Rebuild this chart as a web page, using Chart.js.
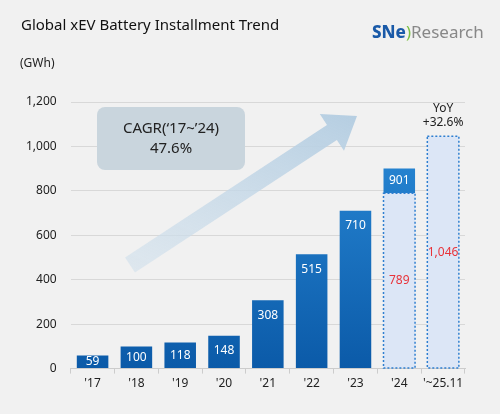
<!DOCTYPE html>
<html><head><meta charset="utf-8">
<script src="https://cdn.jsdelivr.net/npm/chart.js@4"></script>
<style>
body{margin:0;background:#f1f1f1;font-family:'Noto Sans',Arial,sans-serif}
#wrap{position:relative;width:500px;height:414px}
#title{position:absolute;left:21px;top:14px;font-size:15px;color:#111}
#unit{position:absolute;left:20px;top:54px;font-size:12px;color:#222}
#logo{position:absolute;left:372px;top:20px;font-size:17px;color:#888}
#logo b{color:#1a5aa8;font-weight:800}
</style></head><body>
<div id="wrap">
<canvas id="c" width="500" height="414"></canvas>
<div id="title">Global xEV Battery Installment Trend</div>
<div id="unit">(GWh)</div>
<div id="logo"><b>SNe</b><span style="color:#7bc043">)</span>Research</div>
</div>
<script>
var categories = ["'17", "'18", "'19", "'20", "'21", "'22", "'23", "'24", "'~25.11"];
var actual = [59, 100, 118, 148, 308, 515, 710, null, null];
var ytdPart = [null, null, null, null, null, null, null, 789, 1046];
var top24 = [null, null, null, null, null, null, null, 112, null];
var total24 = 901;
var yTicks = [0, 200, 400, 600, 800, 1000, 1200];

function blueGrad(ctx) {
    var a = ctx.chart.chartArea;
    if (!a) return '#1f78c8';
    var g = ctx.chart.ctx.createLinearGradient(0, a.bottom, 0, a.top);
    g.addColorStop(0, '#0b5aa8');
    g.addColorStop(1, '#2d8fdc');
    return g;
}

var deco = {
    id: 'deco',
    beforeDatasetsDraw: function (chart) {
        var c = chart.ctx;
        // arrow
        c.save();
        var x0 = 130, y0 = 265, x1 = 357, y1 = 116;
        var ang = Math.atan2(y1 - y0, x1 - x0);
        var g = c.createLinearGradient(x0, y0, x1, y1);
        g.addColorStop(0, 'rgba(215,228,238,0.6)');
        g.addColorStop(1, 'rgba(180,205,225,1)');
        c.translate(x0, y0); c.rotate(ang);
        var L = Math.hypot(x1 - x0, y1 - y0);
        c.fillStyle = g;
        c.beginPath();
        c.moveTo(0, -9); c.lineTo(L - 30, -9); c.lineTo(L - 30, -22); c.lineTo(L, 0);
        c.lineTo(L - 30, 22); c.lineTo(L - 30, 9); c.lineTo(0, 9); c.closePath();
        c.fill();
        c.restore();
        // CAGR box
        c.save();
        c.fillStyle = '#c9d5dd';
        c.beginPath(); c.roundRect(97, 107, 148, 63, 8); c.fill();
        c.fillStyle = '#222'; c.textAlign = 'center';
        c.font = '15px "Noto Sans"';
        c.fillText('CAGR(\u201817~\u201924)', 171, 133);
        c.fillText('47.6%', 171, 153);
        c.restore();
    },
    afterDatasetsDraw: function (chart) {
        var c = chart.ctx;
        c.save();
        c.textAlign = 'center'; c.textBaseline = 'middle';
        c.font = '12px "Noto Sans"';
        chart.getDatasetMeta(0).data.forEach(function (b, i) {
            if (actual[i] == null) return;
            c.fillStyle = '#fff';
            c.fillText(actual[i], b.x, Math.min(b.y + 15, (b.y + b.base) / 2));
        });
        chart.getDatasetMeta(1).data.forEach(function (b, i) {
            if (ytdPart[i] == null) return;
            var w = b.width;
            c.setLineDash([2, 2]); c.lineWidth = 1.5; c.strokeStyle = '#2f7fd0';
            c.strokeRect(b.x - w / 2, b.y, w, b.base - b.y);
            c.fillStyle = '#e8333a';
            c.fillText(ytdPart[i].toLocaleString('en-US'), b.x, (b.y + b.base) / 2);
        });
        chart.getDatasetMeta(2).data.forEach(function (b, i) {
            if (top24[i] == null) return;
            c.fillStyle = '#fff';
            c.fillText(total24, b.x, (b.y + b.base) / 2);
        });
        var b9 = chart.getDatasetMeta(1).data[8];
        c.fillStyle = '#222'; c.font = '12px "Noto Sans"';
        c.fillText('YoY', b9.x, b9.y - 28);
        c.fillText('+32.6%', b9.x, b9.y - 14);
        c.restore();
    }
};

new Chart(document.getElementById('c'), {
    type: 'bar',
    data: {
        labels: categories,
        datasets: [
            { data: actual, backgroundColor: blueGrad, stack: 's' },
            { data: ytdPart, backgroundColor: '#dce6f6', stack: 's' },
            { data: top24, backgroundColor: blueGrad, stack: 's' }
        ]
    },
    options: {
        responsive: false,
        animation: false,
        layout: { padding: { top: 102, left: 12, right: 35, bottom: 20 } },
        datasets: { bar: { barPercentage: 0.72, categoryPercentage: 1 } },
        plugins: { legend: { display: false }, tooltip: { enabled: false } },
        scales: {
            x: {
                stacked: true,
                grid: { display: true, drawOnChartArea: false, offset: true, tickLength: 5, color: '#ccc' },
                border: { color: '#ccc' },
                ticks: { color: '#222', maxRotation: 0, autoSkip: false, font: { size: 12, family: 'Noto Sans' }, padding: 3 }
            },
            y: {
                stacked: true, min: 0, max: 1200,
                afterBuildTicks: function (ax) { ax.ticks = yTicks.map(function (v) { return { value: v }; }); },
                grid: { color: '#d8d8d8', drawTicks: false },
                border: { display: false },
                ticks: {
                    color: '#222', padding: 14, font: { size: 12, family: 'Noto Sans' },
                    callback: function (v) { return v.toLocaleString('en-US'); }
                }
            }
        }
    },
    plugins: [deco]
});
</script>
</body></html>
